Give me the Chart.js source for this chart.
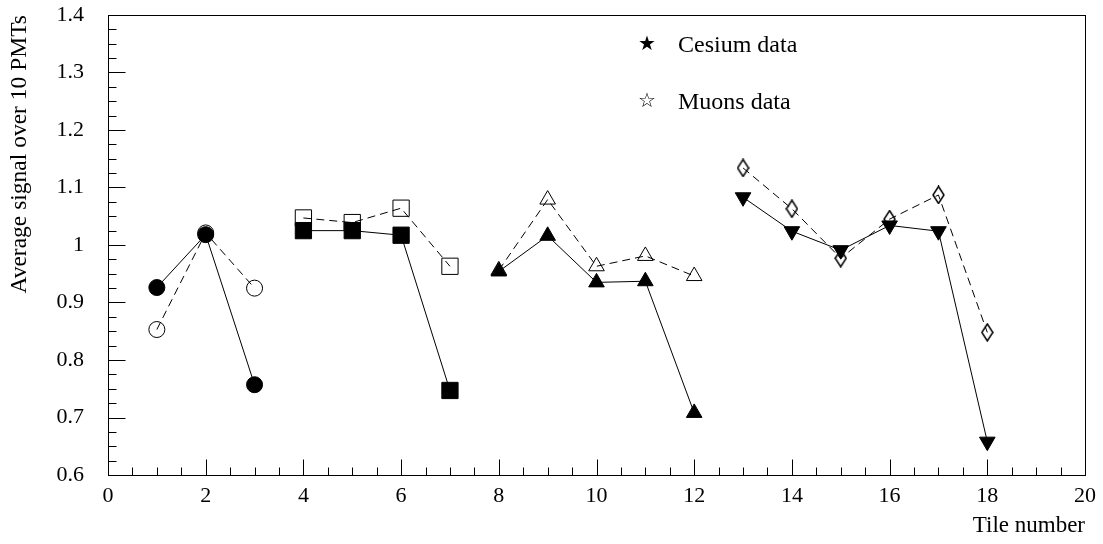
<!DOCTYPE html>
<html>
<head>
<meta charset="utf-8">
<script src="https://cdn.jsdelivr.net/npm/chart.js@4.4.1/dist/chart.umd.min.js"></script>
<style>
  body { margin: 0; background: #fff; }
  canvas { display: block; }
</style>
</head>
<body>
<canvas id="tileChart" width="1103" height="544"></canvas>
<script>
// tile numbers per group
const tilesCircle = [1, 2, 3];
const tilesSquare = [4, 5, 6, 7];
const tilesTriangle = [8, 9, 10, 11, 12];
const tilesInverted = [13, 14, 15, 16, 17, 18];

// cesium data (filled markers, solid line)
const cesiumCircle = [0.926, 1.018, 0.757];
const cesiumSquare = [1.025, 1.025, 1.017, 0.747];
const cesiumTriangle = [0.954, 1.016, 0.935, 0.937, 0.708];
const cesiumInverted = [1.083, 1.024, 0.991, 1.034, 1.024, 0.658];

// muons data (open markers, dashed line)
const muonCircle = [0.853, 1.021, 0.925];
const muonSquare = [1.047, 1.039, 1.064, 0.963];
const muonTriangle = [0.956, 1.079, 0.963, 0.981, 0.946];
const muonDiamond = [1.134, 1.063, 0.977, 1.045, 1.087, 0.848];

const legendLabels = ['Cesium data', 'Muons data'];
const xTitle = 'Tile number';
const yTitle = 'Average signal over 10 PMTs';

const serif = '"Liberation Serif", "Times New Roman", serif';

function pts(xs, ys) {
    return xs.map((x, i) => ({ x: x, y: ys[i] }));
}

// narrow open diamond like the ROOT marker
function diamondMarker(w, h) {
    const c = document.createElement('canvas');
    c.width = w + 2;
    c.height = h + 2;
    const g = c.getContext('2d');
    g.beginPath();
    g.moveTo(c.width / 2, 1);
    g.lineTo(c.width - 1, c.height / 2);
    g.lineTo(c.width / 2, c.height - 1);
    g.lineTo(1, c.height / 2);
    g.closePath();
    g.strokeStyle = '#000';
    g.lineWidth = 1.5;
    g.stroke();
    return c;
}

function cesium(xs, ys, style, radius, rotation) {
    return {
        data: pts(xs, ys),
        borderColor: '#000',
        borderWidth: 1,
        pointStyle: style,
        pointRadius: radius,
        pointRotation: rotation || 0,
        pointBackgroundColor: '#000',
        pointBorderColor: '#000',
        pointBorderWidth: 1
    };
}

function muons(xs, ys, style, radius) {
    return {
        data: pts(xs, ys),
        borderColor: '#000',
        borderWidth: 1,
        borderDash: [8, 5],
        pointStyle: style,
        pointRadius: radius,
        pointBackgroundColor: 'rgba(0,0,0,0)',
        pointBorderColor: '#000',
        pointBorderWidth: 1
    };
}

// ticks inside the frame + the frame itself
const frameTicks = {
    id: 'frameTicks',
    beforeDatasetsDraw(chart) {
        const { ctx, chartArea: a, scales: { x, y } } = chart;
        const L = Math.round(a.left) + 0.5, B = Math.round(a.bottom) + 0.5;
        ctx.save();
        ctx.strokeStyle = '#000';
        ctx.lineWidth = 1;
        ctx.beginPath();
        for (let i = 0; i <= 40; i++) {
            const px = Math.round(x.getPixelForValue(i * 0.5)) + 0.5;
            const len = i % 4 === 0 ? 16 : 8;
            ctx.moveTo(px, B);
            ctx.lineTo(px, B - len);
        }
        for (let i = 0; i <= 32; i++) {
            const py = Math.round(y.getPixelForValue(0.6 + i * 0.025)) + 0.5;
            const len = i % 4 === 0 ? 17 : 8;
            ctx.moveTo(L, py);
            ctx.lineTo(L + len, py);
        }
        ctx.stroke();
        ctx.strokeRect(L, Math.round(a.top) + 0.5, Math.round(a.right - a.left), Math.round(a.bottom - a.top));
        ctx.restore();
    },
    afterDraw(chart) {
        const { ctx } = chart;
        ctx.save();
        ctx.fillStyle = '#000';
        ctx.textBaseline = 'middle';
        ctx.textAlign = 'center';
        ctx.font = '20px "DejaVu Sans"';
        ctx.fillText('★', 647, 45);
        ctx.fillText('☆', 647, 102);
        ctx.textAlign = 'left';
        ctx.font = '24px ' + serif;
        ctx.fillText(legendLabels[0], 678, 46);
        ctx.fillText(legendLabels[1], 678, 103);
        ctx.restore();
    }
};

const ctx = document.getElementById('tileChart').getContext('2d');
const myChart = new Chart(ctx, {
    type: 'line',
    data: {
        datasets: [
            cesium(tilesCircle, cesiumCircle, 'circle', 8),
            cesium(tilesSquare, cesiumSquare, 'rect', 11.5),
            cesium(tilesTriangle, cesiumTriangle, 'triangle', 9),
            cesium(tilesInverted, cesiumInverted, 'triangle', 9, 180),
            muons(tilesCircle, muonCircle, 'circle', 8),
            muons(tilesSquare, muonSquare, 'rect', 11.5),
            muons(tilesTriangle, muonTriangle, 'triangle', 9),
            muons(tilesInverted, muonDiamond, diamondMarker(11, 17), 8)
        ]
    },
    options: {
        responsive: false,
        animation: false,
        layout: { autoPadding: false, padding: { top: 15, right: 18, left: 0, bottom: 0 } },
        plugins: {
            legend: { display: false },
            tooltip: { enabled: false }
        },
        scales: {
            x: {
                type: 'linear',
                min: 0,
                max: 20,
                grid: { display: false, drawTicks: false },
                border: { display: false },
                ticks: {
                    stepSize: 2,
                    padding: 8,
                    color: '#000',
                    maxRotation: 0,
                    font: { family: serif, size: 22 }
                },
                title: {
                    display: true,
                    text: xTitle,
                    align: 'end',
                    color: '#000',
                    padding: { top: 0, bottom: 4 },
                    font: { family: serif, size: 23 }
                },
                afterFit(scale) {
                    scale.height = 69;
                    scale.paddingLeft = 0;
                    scale.paddingRight = 0;
                }
            },
            y: {
                min: 0.6,
                max: 1.4,
                grid: { display: false, drawTicks: false },
                border: { display: false },
                ticks: {
                    stepSize: 0.1,
                    padding: 24,
                    color: '#000',
                    font: { family: serif, size: 22 },
                    callback: (v) => String(+v.toFixed(1))
                },
                title: {
                    display: true,
                    text: yTitle,
                    align: 'end',
                    color: '#000',
                    padding: { top: 6, bottom: 0 },
                    font: { family: serif, size: 23.5 }
                },
                afterFit(scale) {
                    scale.width = 108;
                    scale.paddingTop = 0;
                    scale.paddingBottom = 0;
                }
            }
        }
    },
    plugins: [frameTicks]
});
</script>
</body>
</html>
